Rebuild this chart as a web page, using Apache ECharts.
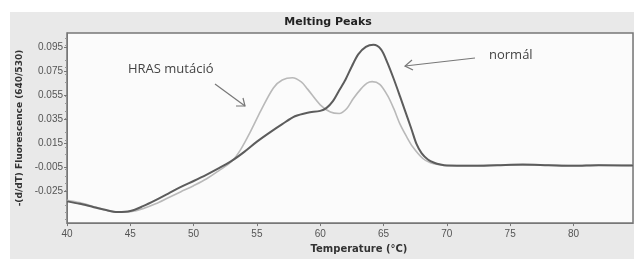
<!DOCTYPE html>
<html>
<head>
<meta charset="utf-8">
<script src="https://cdn.jsdelivr.net/npm/echarts@6/dist/echarts.min.js"></script>
<style>
  html, body { margin: 0; padding: 0; background: #fff; }
  #chart { width: 634px; height: 259px; }
</style>
</head>
<body>
<div id="chart"></div>
<script>
// normál (dark curve)
const normalTemp = [40, 41, 42, 43, 44, 45, 46, 47, 48, 49, 50, 51, 52, 53, 54, 55, 56, 57, 58, 59, 60, 60.5, 61,
  61.5, 62, 62.5, 63, 63.6, 64.2, 64.8, 65.3, 65.8, 66.3, 66.7, 67.2, 67.6, 68, 68.5, 69, 69.5, 70, 72, 74, 76, 78, 80, 82, 84.7]
const normalVal = [-0.033, -0.035, -0.0375, -0.040, -0.0418, -0.041, -0.037, -0.032, -0.0265, -0.021, -0.0161, -0.011,
  -0.0055, 0.0005, 0.008, 0.0165, 0.024, 0.031, 0.0375, 0.0405, 0.042, 0.0445, 0.050, 0.059, 0.068, 0.079, 0.0888,
  0.095, 0.0968, 0.093, 0.082, 0.0686, 0.054, 0.042, 0.027, 0.0146, 0.007, 0.0017, -0.001, -0.0025, -0.0033, -0.0035,
  -0.003, -0.0025, -0.003, -0.0035, -0.003, -0.0033]

// HRAS mutáció (light curve)
const hrasTemp = [40, 41, 42, 43, 44, 45, 46, 47, 48, 49, 50, 51, 52, 53, 53.7, 54.5, 55.3, 56.3, 57, 57.8, 58.5, 59, 60,
  60.8, 61.5, 62.1, 62.6, 63.2, 63.7, 64.1, 64.7, 65.3, 65.8, 66.3, 66.8, 67.3, 68.1, 68.7, 69.5, 70, 72, 74, 76, 78, 80, 82, 84.7]
const hrasVal = [-0.032, -0.034, -0.037, -0.040, -0.042, -0.0415, -0.039, -0.035, -0.030, -0.025, -0.020, -0.0145,
  -0.0075, 0.000, 0.0097, 0.025, 0.042, 0.061, 0.0675, 0.0694, 0.066, 0.060, 0.047, 0.041, 0.0398, 0.044, 0.052, 0.060,
  0.065, 0.0662, 0.064, 0.055, 0.044, 0.031, 0.021, 0.0122, 0.0025, -0.001, -0.0028, -0.0033, -0.0033, -0.003, -0.003,
  -0.003, -0.0033, -0.003, -0.0032]

const xTicks = [40, 45, 50, 55, 60, 65, 70, 75, 80]
const yTicks = [-0.025, -0.005, 0.015, 0.035, 0.055, 0.075, 0.095]

const pairs = (xs, ys) => xs.map((x, i) => [x, ys[i]])

const chart = echarts.init(document.getElementById('chart'))
const axisFont = { fontFamily: 'Liberation Sans, DejaVu Sans, sans-serif', fontSize: 10, color: '#555' }

const option = {
  backgroundColor: '#fff',
  animation: false,
  title: {
    text: 'Melting Peaks',
    left: 323,
    textAlign: 'center',
    top: 12,
    textStyle: { fontFamily: 'DejaVu Sans, sans-serif', fontSize: 11, fontWeight: 'bold', color: '#222' }
  },
  grid: {
    left: 67,
    top: 33,
    right: 1,
    bottom: 31,
    show: true,
    backgroundColor: '#fbfbfb',
    borderColor: '#777',
    borderWidth: 1.5
  },
  xAxis: {
    type: 'value',
    min: 40,
    max: 84.7,
    name: 'Temperature (°C)',
    nameLocation: 'middle',
    nameGap: 12,
    nameTextStyle: { fontFamily: 'DejaVu Sans, sans-serif', fontSize: 10, fontWeight: 'bold', color: '#333', padding: [0, 0, 0, 18] },
    splitLine: { show: false },
    axisLine: { show: true, onZero: false, lineStyle: { color: '#777' } },
    axisTick: { show: true, customValues: xTicks, length: 3, lineStyle: { color: '#777' } },
    axisLabel: { customValues: xTicks, margin: 6, ...axisFont }
  },
  yAxis: {
    type: 'value',
    min: -0.051,
    max: 0.1065,
    name: '-(d/dT) Fluorescence (640/530)',
    nameLocation: 'middle',
    nameGap: 40,
    nameTextStyle: { fontFamily: 'DejaVu Sans, sans-serif', fontSize: 9, fontWeight: 'bold', color: '#333' },
    splitLine: { show: false },
    axisLine: { show: true, lineStyle: { color: '#777' } },
    axisTick: { show: true, customValues: yTicks, length: 3, lineStyle: { color: '#777' } },
    minorTick: { show: true, splitNumber: 5, length: 2, lineStyle: { color: '#999' } },
    axisLabel: { customValues: yTicks, margin: 4, formatter: v => v.toFixed(3), ...axisFont }
  },
  graphic: [
    { type: 'rect', z: -10, shape: { x: 10, y: 12, width: 624, height: 247 }, style: { fill: '#e9e9e9' } },
    { type: 'text', z: 10, x: 128, y: 63, style: { text: 'HRAS mutáció', font: '13px "Open Sans", sans-serif', fill: '#444' } },
    { type: 'text', z: 10, x: 489, y: 49, style: { text: 'normál', font: '13px "Open Sans", sans-serif', fill: '#444' } },
    { type: 'line', z: 10, shape: { x1: 215, y1: 84, x2: 245, y2: 106 }, style: { stroke: '#777', lineWidth: 1.2 } },
    { type: 'polyline', z: 10, shape: { points: [[236, 106], [245, 106], [243, 98]] }, style: { stroke: '#777', lineWidth: 1.2, fill: null } },
    { type: 'line', z: 10, shape: { x1: 475, y1: 58, x2: 405, y2: 66 }, style: { stroke: '#777', lineWidth: 1.2 } },
    { type: 'polyline', z: 10, shape: { points: [[412, 60], [405, 66], [413, 70]] }, style: { stroke: '#777', lineWidth: 1.2, fill: null } }
  ],
  series: [
    {
      name: 'HRAS mutáció',
      type: 'line',
      data: pairs(hrasTemp, hrasVal),
      smooth: 0.3,
      showSymbol: false,
      lineStyle: { color: '#b9b9b9', width: 1.6 }
    },
    {
      name: 'normál',
      type: 'line',
      data: pairs(normalTemp, normalVal),
      smooth: 0.3,
      showSymbol: false,
      lineStyle: { color: '#5c5c5c', width: 2 }
    }
  ]
}

chart.setOption(option)
</script>
</body>
</html>
